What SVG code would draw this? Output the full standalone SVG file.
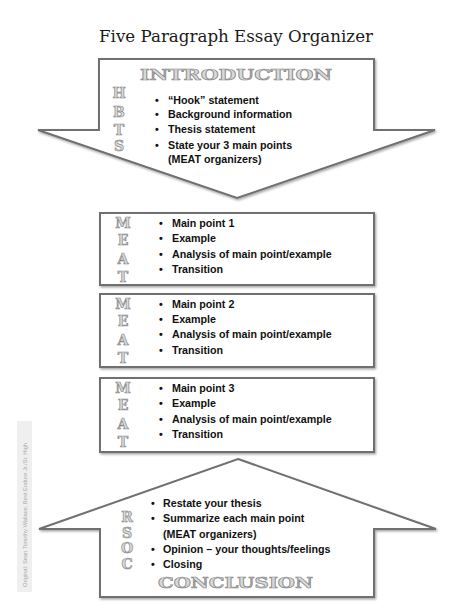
<svg xmlns="http://www.w3.org/2000/svg" width="474" height="612" viewBox="0 0 474 612">
<defs>
<filter id="sh" x="-10%" y="-10%" width="120%" height="120%">
<feDropShadow dx="1.2" dy="1.5" stdDeviation="1" flood-color="#000" flood-opacity="0.35"/>
</filter>
</defs>
<style>
.shape{fill:#fff;stroke:#6f6f6f;stroke-width:2;filter:url(#sh)}
.t{font-family:"Liberation Sans",Arial,sans-serif;font-weight:bold;font-size:10.7px;fill:#111}
.eng{font-family:"DejaVu Serif","Liberation Serif",serif;font-weight:bold;fill:#d9d9d9;stroke:#8c8c8c;stroke-width:0.7}
.let{font-size:14px;text-anchor:middle}
.hd{font-size:14px}
.title{font-family:"DejaVu Serif","Liberation Serif",serif;font-size:17px;fill:#1a1a1a}
.wm{font-family:"Liberation Sans",Arial,sans-serif;font-size:5px;fill:#a8a8a8}
</style>
<rect width="474" height="612" fill="#fff"/>
<text class="title" x="99" y="41.5" textLength="274" lengthAdjust="spacingAndGlyphs">Five Paragraph Essay Organizer</text>
<g id="watermark">
<rect x="17" y="421" width="15" height="171" fill="#efefef"/>
<text class="wm" transform="translate(27,587) rotate(-90)" textLength="144" lengthAdjust="spacingAndGlyphs">Original: Sean Timothy Wallace, Best Endure Jr./Sr. High</text>
</g>
<g id="connectors"></g>
<g id="introduction">
<path class="shape" d="M99,59 L374,59 L374,130 L435,130 L237,198 L38,130 L99,130 Z"/>
<text class="eng hd" x="140" y="80" textLength="192" lengthAdjust="spacingAndGlyphs">INTRODUCTION</text>
<text class="eng let" x="119" y="98">H</text>
<text class="eng let" x="119" y="117">B</text>
<text class="eng let" x="119" y="135">T</text>
<text class="eng let" x="119" y="151">S</text>
<text class="t" x="155" y="104">•</text><text class="t" x="168" y="104">“Hook” statement</text>
<text class="t" x="155" y="118">•</text><text class="t" x="168" y="118">Background information</text>
<text class="t" x="155" y="133">•</text><text class="t" x="168" y="133">Thesis statement</text>
<text class="t" x="155" y="149">•</text><text class="t" x="168" y="149">State your 3 main points</text>
<text class="t" x="168" y="163">(MEAT organizers)</text>
</g>
<g id="main1">
<rect class="shape" x="100" y="213" width="274" height="72"/>
<text class="eng let" x="123" y="228">M</text>
<text class="eng let" x="123" y="245">E</text>
<text class="eng let" x="123" y="264">A</text>
<text class="eng let" x="123" y="282">T</text>
<text class="t" x="159" y="227">•</text><text class="t" x="172" y="227">Main point 1</text>
<text class="t" x="159" y="242">•</text><text class="t" x="172" y="242">Example</text>
<text class="t" x="159" y="258">•</text><text class="t" x="172" y="258">Analysis of main point/example</text>
<text class="t" x="159" y="273">•</text><text class="t" x="172" y="273">Transition</text>
</g>
<g id="main2">
<rect class="shape" x="100" y="294" width="274" height="73"/>
<text class="eng let" x="123" y="309">M</text>
<text class="eng let" x="123" y="326">E</text>
<text class="eng let" x="123" y="345">A</text>
<text class="eng let" x="123" y="363">T</text>
<text class="t" x="159" y="308">•</text><text class="t" x="172" y="308">Main point 2</text>
<text class="t" x="159" y="323">•</text><text class="t" x="172" y="323">Example</text>
<text class="t" x="159" y="338">•</text><text class="t" x="172" y="338">Analysis of main point/example</text>
<text class="t" x="159" y="354">•</text><text class="t" x="172" y="354">Transition</text>
</g>
<g id="main3">
<rect class="shape" x="100" y="378" width="274" height="74"/>
<text class="eng let" x="123" y="393">M</text>
<text class="eng let" x="123" y="410">E</text>
<text class="eng let" x="123" y="429">A</text>
<text class="eng let" x="123" y="447">T</text>
<text class="t" x="159" y="392">•</text><text class="t" x="172" y="392">Main point 3</text>
<text class="t" x="159" y="407">•</text><text class="t" x="172" y="407">Example</text>
<text class="t" x="159" y="423">•</text><text class="t" x="172" y="423">Analysis of main point/example</text>
<text class="t" x="159" y="438">•</text><text class="t" x="172" y="438">Transition</text>
</g>
<g id="conclusion">
<path class="shape" d="M238,459 L436,529 L374,529 L374,597 L100,597 L100,529 L39,529 Z"/>
<text class="eng let" x="127" y="522">R</text>
<text class="eng let" x="127" y="538">S</text>
<text class="eng let" x="127" y="553">O</text>
<text class="eng let" x="127" y="569">C</text>
<text class="t" x="151" y="507">•</text><text class="t" x="163" y="507">Restate your thesis</text>
<text class="t" x="151" y="522">•</text><text class="t" x="163" y="522">Summarize each main point</text>
<text class="t" x="163" y="538">(MEAT organizers)</text>
<text class="t" x="151" y="553">•</text><text class="t" x="163" y="553">Opinion – your thoughts/feelings</text>
<text class="t" x="151" y="568">•</text><text class="t" x="163" y="568">Closing</text>
<text class="eng hd" x="158" y="588" textLength="155" lengthAdjust="spacingAndGlyphs">CONCLUSION</text>
</g>
</svg>
